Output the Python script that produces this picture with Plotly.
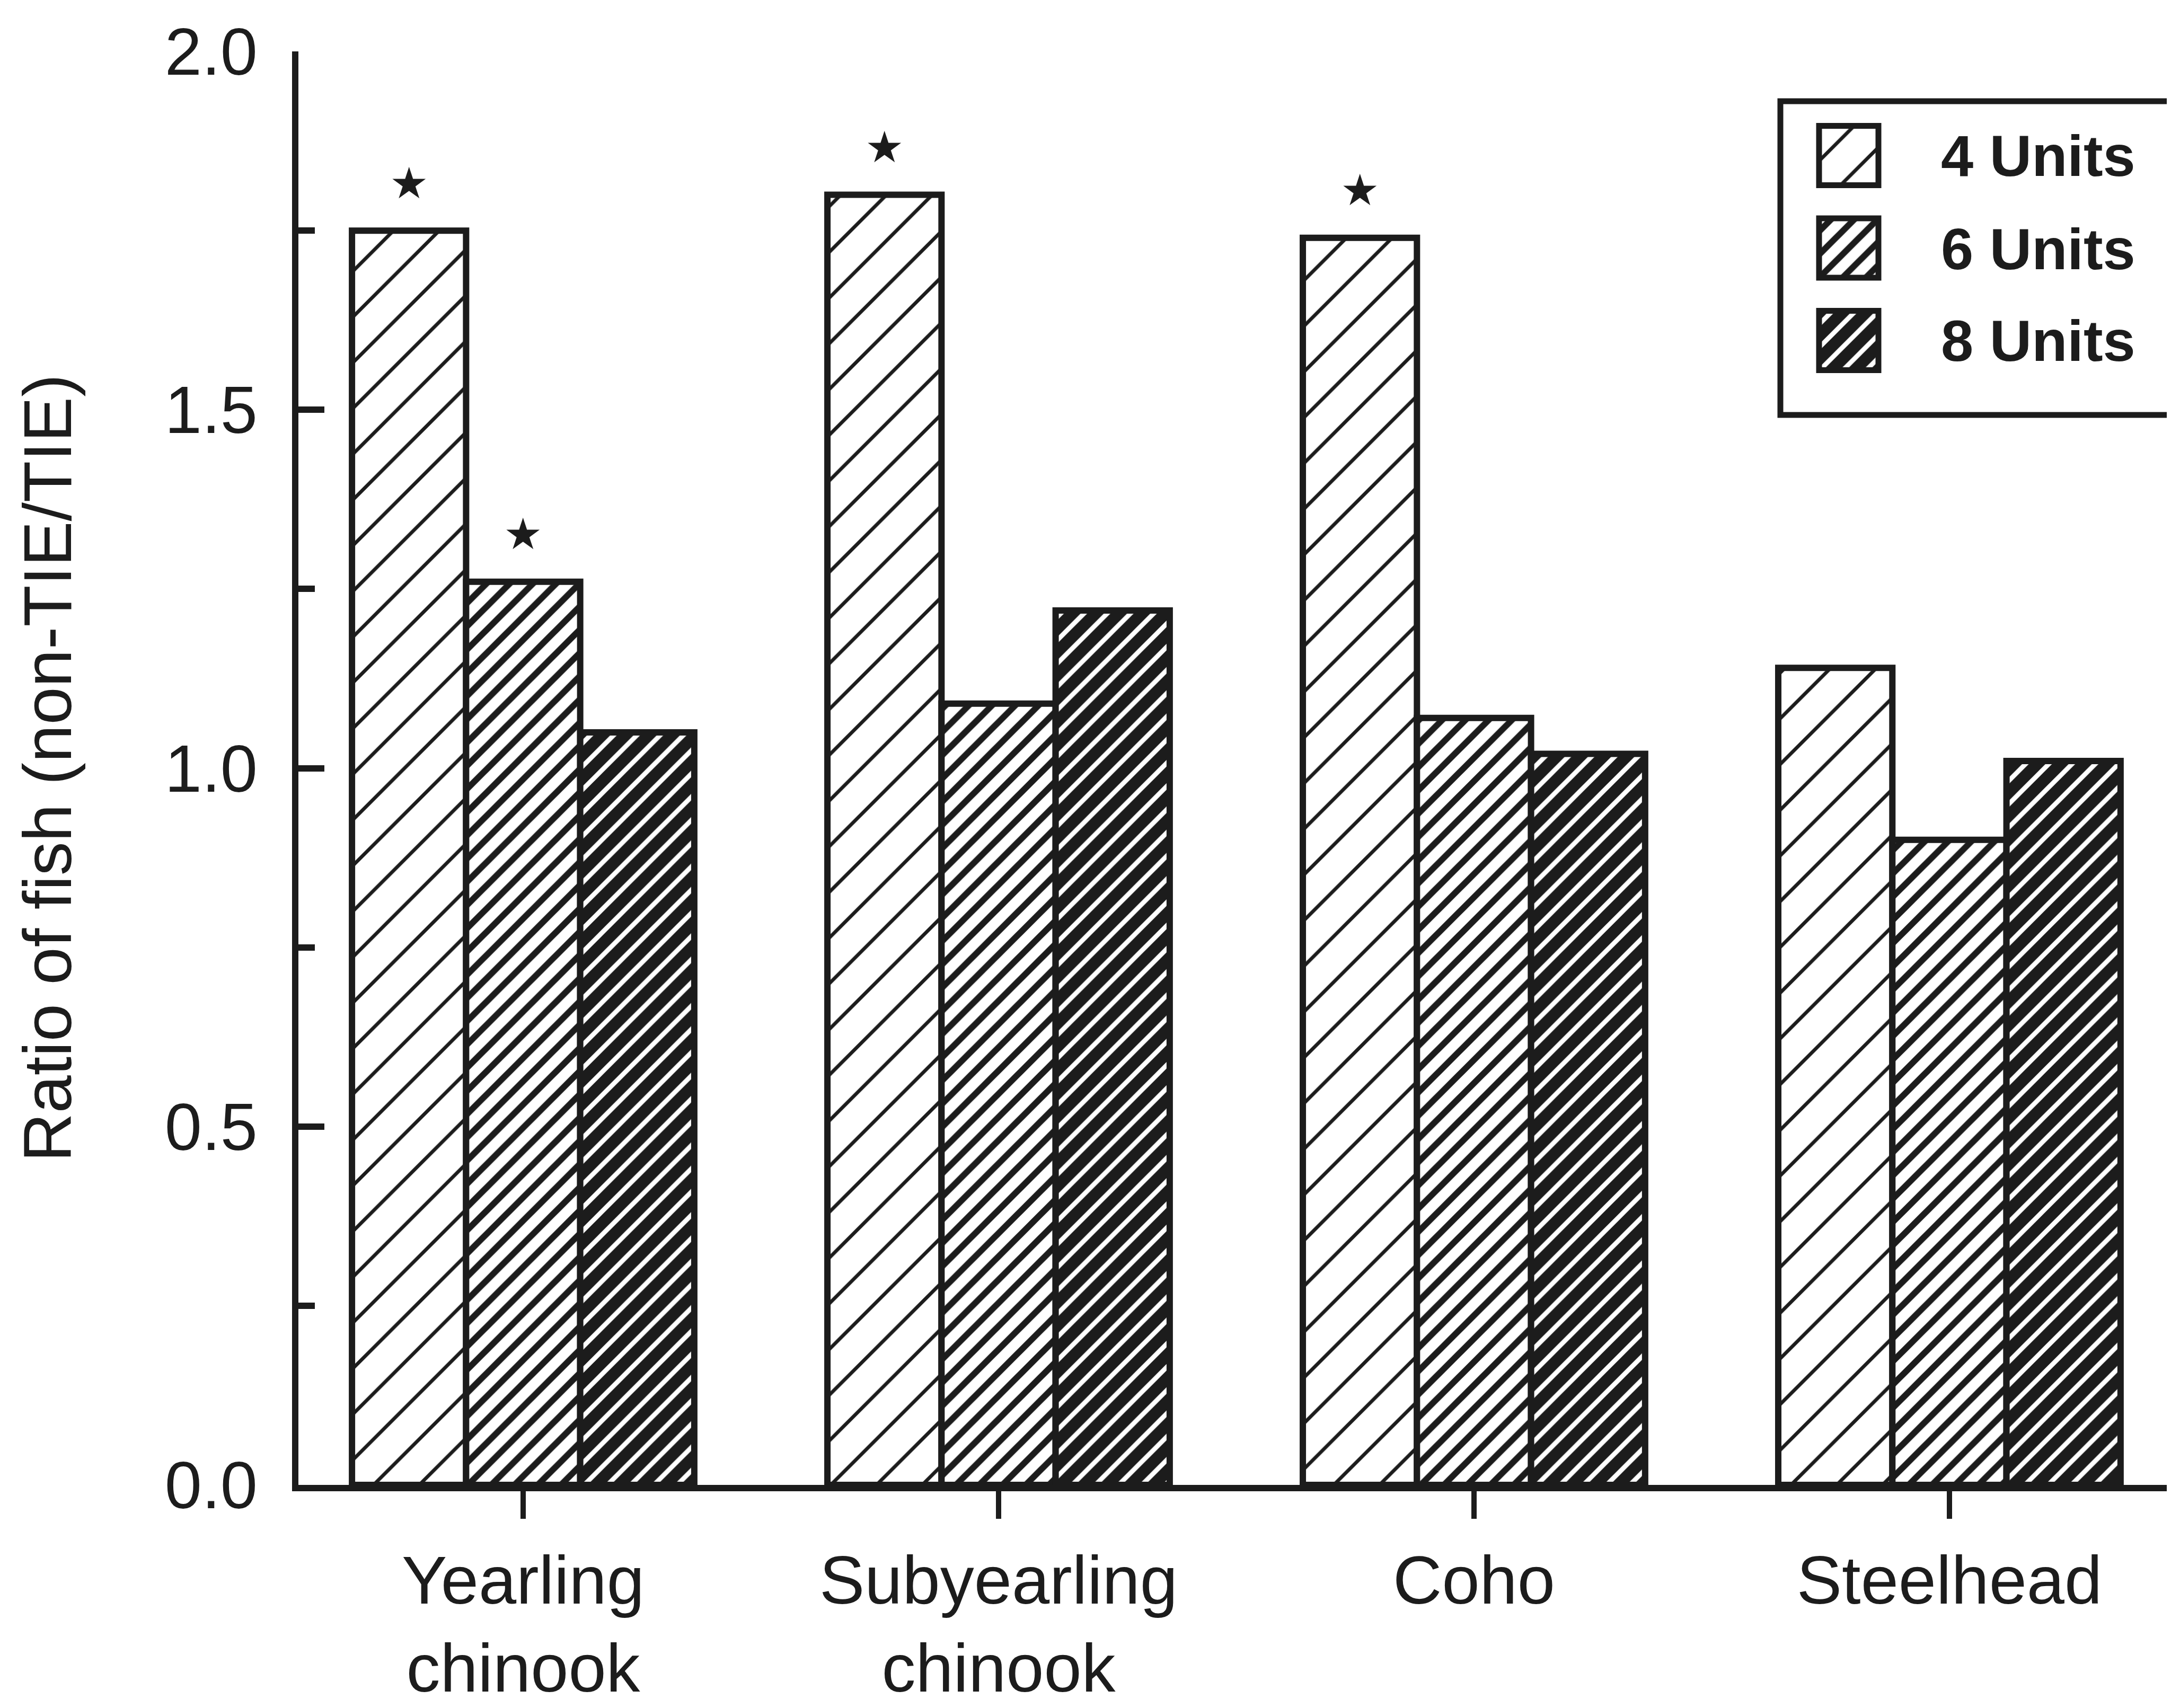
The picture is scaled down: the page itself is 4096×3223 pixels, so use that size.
import plotly.graph_objects as go

# ---------------- data ----------------
categories = ["Yearling chinook", "Subyearling chinook", "Coho", "Steelhead"]
category_labels = ["Yearling<br>chinook", "Subyearling<br>chinook", "Coho", "Steelhead"]
series_names = ["4 Units", "6 Units", "8 Units"]
units4 = [1.75, 1.80, 1.74, 1.14]
units6 = [1.26, 1.09, 1.07, 0.90]
units8 = [1.05, 1.22, 1.02, 1.01]
sig4 = [True, True, True, False]
sig6 = [True, False, False, False]
sig8 = [False, False, False, False]
y_ticks = [0.0, 0.5, 1.0, 1.5, 2.0]
y_title = "Ratio of fish (non-TIE/TIE)"

# ---------------- layout constants ----------------
W, H = 4096, 3223
L, R, T, B = 555, 0, 89, 3223 - 2794
PW = W - L - R
PH = H - T - B
XMIN, XMAX = -0.4727, 3.475
BARGAP = 0.28
INK = "#1c1c1c"
FONT = "Liberation Sans, Arial, Helvetica, sans-serif"


def fx(px):
    return (px - L) / PW


def fy(py):
    return (H - B - py) / PH


patterns = [
    dict(shape="/", size=61, solidity=0.11, fgcolor=INK, bgcolor="white", fillmode="replace"),
    dict(shape="/", size=31, solidity=0.38, fgcolor=INK, bgcolor="white", fillmode="replace"),
    dict(shape="/", size=31, solidity=0.28, fgcolor="white", bgcolor=INK, fillmode="replace"),
]
base_colors = ["white", "white", INK]
series_vals = [units4, units6, units8]
series_sig = [sig4, sig6, sig8]

fig = go.Figure()

for i, name in enumerate(series_names):
    fig.add_trace(go.Bar(
        name=name,
        x=categories,
        y=series_vals[i],
        marker=dict(color=base_colors[i], pattern=patterns[i],
                    line=dict(color=INK, width=12)),
        showlegend=False,
        hoverinfo="x+y+name",
    ))

# significance stars
bar_w_px = PW / (XMAX - XMIN) * (1 - BARGAP) / len(series_names)
annotations = []
for i in range(len(series_names)):
    for c, cat in enumerate(categories):
        if series_sig[i][c]:
            annotations.append(dict(
                x=cat, y=series_vals[i][c], xref="x", yref="y",
                text="★", showarrow=False,
                xshift=(i - 1) * bar_w_px, yshift=90,
                xanchor="center", yanchor="middle",
                font=dict(family="DejaVu Sans", size=82, color=INK),
            ))

# legend swatches (drawn as bars on a small auxiliary axis)
sw_left, sw_right = 3424, 3536
sw_centers = [285.5, 461.0, 634.5]
sw_h = 112
pad = 10
unit_x = sw_right - sw_left
unit_y = ((sw_centers[1] - sw_centers[0]) + (sw_centers[2] - sw_centers[1])) / 2.0
dom_top, dom_bot = sw_centers[0] - sw_h / 2 - pad, sw_centers[2] + sw_h / 2 + pad
n = len(series_names)
y2_top = (n - 1) + (sw_centers[0] - dom_top) / unit_y
y2_bot = -(dom_bot - sw_centers[2]) / unit_y
for i, name in enumerate(series_names):
    pos = n - 1 - i
    fig.add_trace(go.Bar(
        x=[1], y=[pos], base=0, orientation="h",
        width=sw_h / unit_y, offset=-sw_h / unit_y / 2,
        xaxis="x2", yaxis="y2",
        marker=dict(color=base_colors[i], pattern=patterns[i],
                    line=dict(color=INK, width=11)),
        showlegend=False, hoverinfo="skip",
    ))
    annotations.append(dict(
        x=fx(3652), y=fy(sw_centers[i]), xref="paper", yref="paper",
        text=name, showarrow=False, xanchor="left", yanchor="middle",
        font=dict(family=FONT, size=110, color=INK, weight="bold"),
    ))

shapes = [dict(
    type="rect", xref="paper", yref="paper",
    x0=fx(3351), x1=fx(4099), y0=fy(775), y1=fy(183),
    line=dict(color=INK, width=11), fillcolor="white", layer="below",
)]

fig.update_layout(
    width=W, height=H,
    margin=dict(l=L, r=R, t=T, b=B, autoexpand=False),
    paper_bgcolor="white", plot_bgcolor="white",
    barmode="group", bargap=BARGAP, bargroupgap=0,
    font=dict(family=FONT, color=INK),
    showlegend=False,
    annotations=annotations,
    shapes=shapes,
    xaxis=dict(
        type="category", range=[XMIN, XMAX],
        tickmode="array", tickvals=categories, ticktext=category_labels,
        ticks="outside", ticklen=52, tickwidth=10, tickcolor=INK,
        showline=True, linewidth=12, linecolor=INK,
        showgrid=False, zeroline=False,
        tickfont=dict(family=FONT, size=128, color=INK),
        ticklabelstandoff=6, automargin=False,
    ),
    yaxis=dict(
        range=[0, 2], tickmode="array", tickvals=y_ticks,
        ticktext=[f"{v:.1f}" for v in y_ticks],
        ticks="inside", ticklen=49, tickwidth=12, tickcolor=INK,
        minor=dict(ticks="inside", ticklen=31, tickwidth=12, tickcolor=INK,
                   dtick=0.25, tick0=0, showgrid=False),
        showline=True, linewidth=12, linecolor=INK,
        showgrid=False, zeroline=False,
        tickfont=dict(family=FONT, size=126, color=INK),
        ticklabelstandoff=40,
        title=dict(text=y_title, font=dict(family=FONT, size=128, color=INK), standoff=138),
        automargin=False,
    ),
    xaxis2=dict(domain=[fx(sw_left - pad), fx(sw_right + pad)],
                range=[-pad / unit_x, 1 + pad / unit_x], anchor="y2",
                visible=False, fixedrange=True),
    yaxis2=dict(domain=[fy(dom_bot), fy(dom_top)], range=[y2_bot, y2_top],
                anchor="x2", visible=False, fixedrange=True),
)

fig.write_html("out.html")
